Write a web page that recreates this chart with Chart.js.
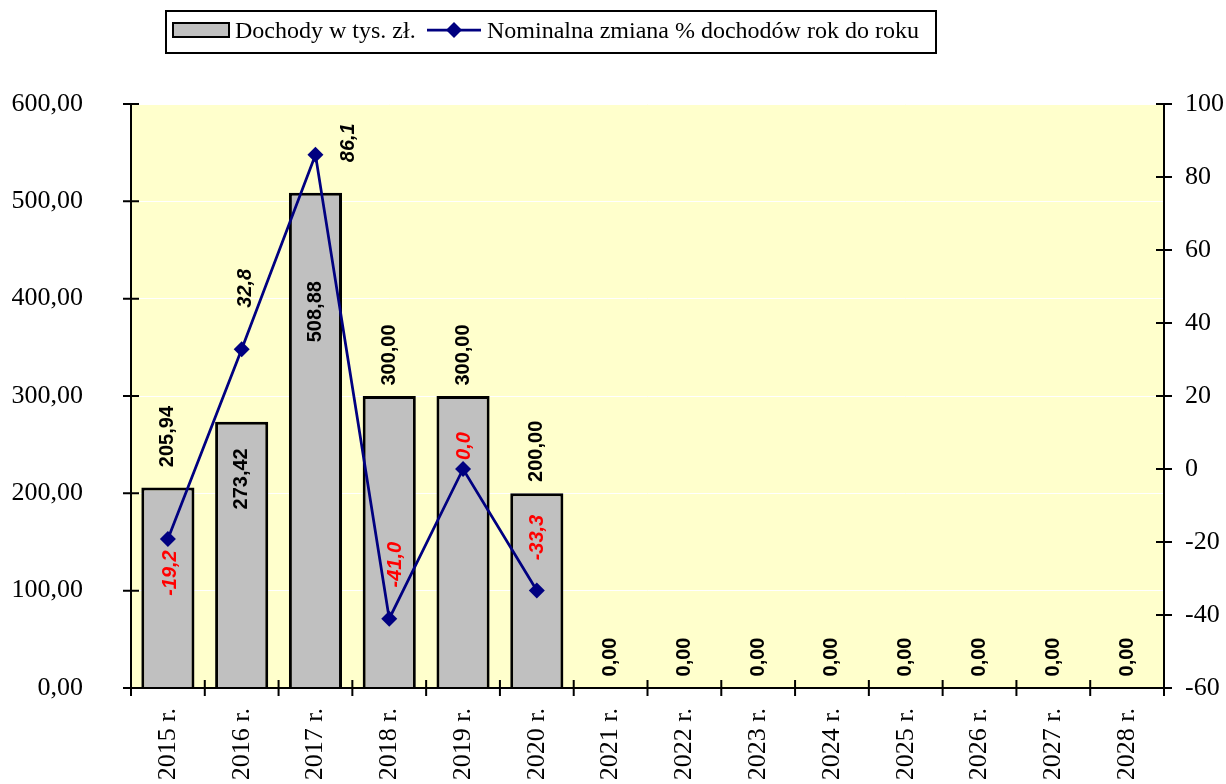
<!DOCTYPE html>
<html lang="pl">
<head>
<meta charset="utf-8">
<title>Dochody</title>
<script src="https://cdn.jsdelivr.net/npm/chart.js@4/dist/chart.umd.min.js"></script>
<style>
    html, body { margin: 0; padding: 0; background: #fff; overflow: hidden; }
    canvas { display: block; }
</style>
</head>
<body>
<canvas id="wykres" width="1226" height="784"></canvas>
<script>
const lata = ['2015 r.', '2016 r.', '2017 r.', '2018 r.', '2019 r.', '2020 r.', '2021 r.',
    '2022 r.', '2023 r.', '2024 r.', '2025 r.', '2026 r.', '2027 r.', '2028 r.'];
const dochody = [205.94, 273.42, 508.88, 300.00, 300.00, 200.00, 0, 0, 0, 0, 0, 0, 0, 0];
const zmianaProc = [-19.2, 32.8, 86.1, -41.0, 0.0, -33.3, null, null, null, null, null, null, null, null];

const nazwaSlupki = 'Dochody w tys. zł.';
const nazwaLinia = 'Nominalna zmiana % dochodów rok do roku';

function fmt(v, miejsca) {
    return v.toFixed(miejsca).replace('.', ',');
}

// tlo obszaru wykresu
const tlo = {
    id: 'tlo',
    beforeDraw(chart) {
        const { ctx, chartArea: a } = chart;
        ctx.save();
        ctx.fillStyle = '#FFFFCC';
        ctx.fillRect(a.left, a.top, a.right - a.left, a.bottom - a.top);
        ctx.restore();
    }
};

// osie z kreskami przechodzacymi przez linie osi
const osie = {
    id: 'osie',
    afterDatasetsDraw(chart) {
        const { ctx, chartArea: a, scales } = chart;
        ctx.save();
        ctx.strokeStyle = '#000';
        ctx.lineWidth = 2;
        ctx.beginPath();
        ctx.moveTo(a.left, a.top);
        ctx.lineTo(a.left, a.bottom);
        ctx.lineTo(a.right, a.bottom);
        ctx.moveTo(a.right, a.top);
        ctx.lineTo(a.right, a.bottom);
        scales.y.ticks.forEach(t => {
            const py = scales.y.getPixelForValue(t.value);
            ctx.moveTo(a.left - 8, py);
            ctx.lineTo(a.left + 8, py);
        });
        scales.y1.ticks.forEach(t => {
            const py = scales.y1.getPixelForValue(t.value);
            ctx.moveTo(a.right - 8, py);
            ctx.lineTo(a.right + 8, py);
        });
        for (let i = 0; i <= lata.length; i++) {
            const px = scales.x.getPixelForValue(i - 0.5);
            ctx.moveTo(px, a.bottom - 8);
            ctx.lineTo(px, a.bottom + 8);
        }
        ctx.stroke();
        ctx.restore();
    }
};

function napis(ctx, tekst, x, y, kolor) {
    ctx.save();
    ctx.translate(x, y);
    ctx.rotate(-Math.PI / 2);
    ctx.fillStyle = kolor;
    ctx.fillText(tekst, 0, 0);
    ctx.restore();
}

// etykiety danych (obrocone)
const etykiety = {
    id: 'etykiety',
    afterDraw(chart, args, opts) {
        const ctx = chart.ctx;
        const bary = chart.getDatasetMeta(0).data;
        const punkty = chart.getDatasetMeta(1).data;
        ctx.save();
        ctx.textAlign = 'center';
        ctx.textBaseline = 'middle';
        ctx.font = 'bold 20px "Liberation Sans", Arial, sans-serif';
        bary.forEach((el, i) => {
            napis(ctx, fmt(dochody[i], 2), el.x, el.y + opts.przesuniecieSlupka[i], '#000');
        });
        ctx.font = 'italic bold 20px "Liberation Sans", Arial, sans-serif';
        punkty.forEach((el, i) => {
            if (zmianaProc[i] === null) return;
            const [dx, dy] = opts.przesunieciePunktu[i];
            const kolor = zmianaProc[i] > 0 ? '#000' : '#FF0000';
            napis(ctx, fmt(zmianaProc[i], 1), el.x + dx, el.y + dy, kolor);
        });
        ctx.restore();
    }
};

// legenda w ramce
const legenda = {
    id: 'legenda',
    afterDraw(chart) {
        const ctx = chart.ctx;
        const ds = chart.data.datasets;
        ctx.save();
        ctx.fillStyle = '#fff';
        ctx.fillRect(166, 11, 770, 42);
        ctx.strokeStyle = '#000';
        ctx.lineWidth = 2;
        ctx.strokeRect(166, 11, 770, 42);

        ctx.fillStyle = ds[0].backgroundColor;
        ctx.fillRect(173, 23, 56, 14);
        ctx.strokeRect(173, 23, 56, 14);

        ctx.font = '24px "Liberation Serif", "Times New Roman", serif';
        ctx.textBaseline = 'middle';
        ctx.fillStyle = '#000';
        ctx.fillText(ds[0].label, 235, 32);

        ctx.strokeStyle = ds[1].borderColor;
        ctx.lineWidth = 2.75;
        ctx.beginPath();
        ctx.moveTo(427, 30);
        ctx.lineTo(481, 30);
        ctx.stroke();
        ctx.fillStyle = ds[1].borderColor;
        ctx.beginPath();
        ctx.moveTo(454, 22);
        ctx.lineTo(462, 30);
        ctx.lineTo(454, 38);
        ctx.lineTo(446, 30);
        ctx.closePath();
        ctx.fill();

        ctx.fillStyle = '#000';
        ctx.fillText(ds[1].label, 487, 32);
        ctx.restore();
    }
};

const czcionkaOsi = { family: '"Liberation Serif", "Times New Roman", serif', size: 26 };

const ctx = document.getElementById('wykres').getContext('2d');
new Chart(ctx, {
    type: 'bar',
    data: {
        labels: lata,
        datasets: [{
            type: 'bar',
            label: nazwaSlupki,
            data: dochody,
            backgroundColor: '#C0C0C0',
            borderColor: '#000',
            borderWidth: 3,
            categoryPercentage: 1,
            barPercentage: 0.72,
            yAxisID: 'y',
            order: 1
        }, {
            type: 'line',
            label: nazwaLinia,
            data: zmianaProc,
            borderColor: '#000080',
            backgroundColor: '#000080',
            borderWidth: 2.75,
            pointStyle: 'rectRot',
            pointRadius: 8,
            pointBorderWidth: 0,
            tension: 0,
            spanGaps: false,
            yAxisID: 'y1',
            order: 0
        }]
    },
    options: {
        responsive: false,
        animation: false,
        layout: { padding: { top: 104, left: 0, right: 0, bottom: 0 } },
        plugins: {
            legend: { display: false },
            tooltip: { enabled: false },
            etykiety: {
                przesuniecieSlupka: [-51, 57, 119, -41, -41, -42, -31, -31, -31, -31, -31, -31, -31, -31],
                przesunieciePunktu: [[3, 34], [4, -61], [33, -12], [6, -54], [1, -23], [1, -53]]
            }
        },
        scales: {
            x: {
                grid: { display: false, drawTicks: false },
                border: { display: false },
                ticks: {
                    color: '#000',
                    font: czcionkaOsi,
                    minRotation: 90,
                    maxRotation: 90,
                    autoSkip: false,
                    padding: 20
                },
                afterFit(s) { s.height = 96; }
            },
            y: {
                position: 'left',
                min: 0,
                max: 600,
                grid: { color: '#FFFFFF', lineWidth: 1, drawTicks: false },
                border: { display: false },
                ticks: {
                    stepSize: 100,
                    color: '#000',
                    font: czcionkaOsi,
                    padding: 48,
                    callback: v => fmt(v, 2)
                },
                afterFit(s) { s.width = 131; }
            },
            y1: {
                position: 'right',
                min: -60,
                max: 100,
                grid: { display: false, drawTicks: false },
                border: { display: false },
                ticks: {
                    stepSize: 20,
                    color: '#000',
                    font: czcionkaOsi,
                    padding: 21,
                    callback: v => String(v)
                },
                afterFit(s) { s.width = 62; }
            }
        }
    },
    plugins: [tlo, osie, etykiety, legenda]
});
</script>
</body>
</html>
